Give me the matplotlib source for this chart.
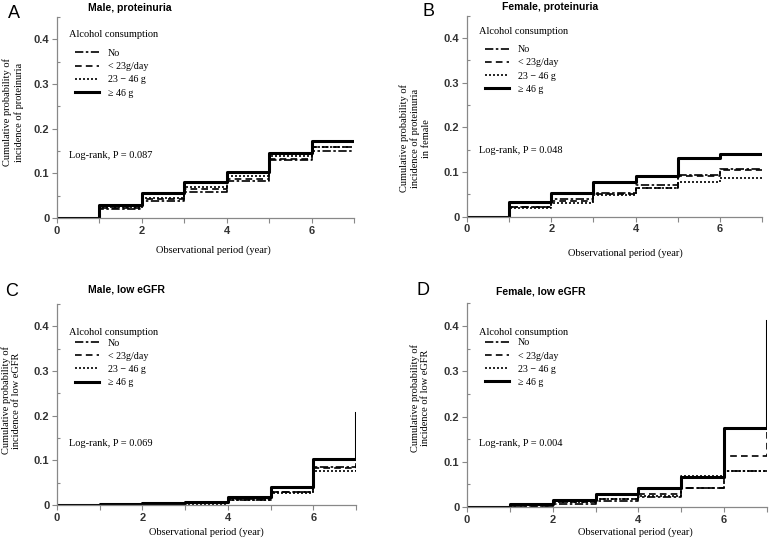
import matplotlib
matplotlib.use("Agg")
import matplotlib.pyplot as plt
from matplotlib.ticker import MultipleLocator
import numpy as np

# observation years (step boundaries); value at year k holds until year k+1,
# the last value is where the curve ends at year 7
years = [0, 1, 2, 3, 4, 5, 6, 7]

groups = ["No", "< 23g/day", "23 \u2212 46 g", "\u2265 46 g"]

# A: male, proteinuria
male_prot = {
    "No":     [0, 0.020, 0.038, 0.059, 0.083, 0.130, 0.150, 0.150],
    "<23":    [0, 0.022, 0.042, 0.064, 0.087, 0.133, 0.160, 0.160],
    "23-46":  [0, 0.025, 0.045, 0.070, 0.095, 0.138, 0.158, 0.158],
    ">=46":   [0, 0.030, 0.055, 0.081, 0.103, 0.145, 0.172, 0.172],
}
# B: female, proteinuria
female_prot = {
    "No":     [0, 0.022, 0.039, 0.054, 0.071, 0.094, 0.106, 0.106],
    "<23":    [0, 0.021, 0.036, 0.050, 0.065, 0.092, 0.104, 0.104],
    "23-46":  [0, 0.019, 0.030, 0.049, 0.064, 0.078, 0.087, 0.087],
    ">=46":   [0, 0.033, 0.054, 0.077, 0.092, 0.132, 0.141, 0.141],
}
# C: male, low eGFR
male_egfr = {
    "No":     [0, 0.001, 0.002, 0.004, 0.012, 0.028, 0.084, 0.095],
    "<23":    [0, 0.001, 0.002, 0.004, 0.013, 0.030, 0.082, 0.090],
    "23-46":  [0, 0.001, 0.002, 0.003, 0.012, 0.026, 0.077, 0.085],
    ">=46":   [0, 0.002, 0.004, 0.007, 0.017, 0.040, 0.102, 0.205],
}
# D: female, low eGFR
female_egfr = {
    "No":     [0, 0.002, 0.006, 0.013, 0.023, 0.041, 0.080, 0.080],
    "<23":    [0, 0.003, 0.010, 0.018, 0.029, 0.041, 0.113, 0.170],
    "23-46":  [0, 0.004, 0.010, 0.018, 0.025, 0.069, 0.080, 0.080],
    ">=46":   [0, 0.007, 0.015, 0.028, 0.041, 0.066, 0.174, 0.410],
}

titles = ["Male, proteinuria", "Female, proteinuria", "Male, low eGFR", "Female, low eGFR"]
letters = ["A", "B", "C", "D"]
ylabels = [
    "Cumulative probability of\nincidence of proteinuria",
    "Cumulative probability of\nincidence of proteinuria\nin female",
    "Cumulative probability of\nincidence of low eGFR",
    "Cumulative probability of\nincidence of low eGFR",
]
pvalues = ["0.087", "0.048", "0.069", "0.004"]

SERIF = "Liberation Serif"
SANS = "Liberation Sans"

styles = {
    "No":    dict(linestyle=(0, (5, 1.5, 1.5, 1.5)), linewidth=1.2),
    "<23":   dict(linestyle=(0, (4, 2.5)), linewidth=1.2),
    "23-46": dict(linestyle=(0, (1.2, 1.2)), linewidth=1.2),
    ">=46":  dict(linestyle="-", linewidth=2.2),
}
keys = ["No", "<23", "23-46", ">=46"]


def draw_panel(ax, data, title, letter, ylabel, pval, fig, layout):
    for k, name in zip(keys, groups):
        ax.plot(years, data[k], drawstyle="steps-post", color="black",
                label=name, **styles[k])

    ax.set_xlim(0, 7)
    ax.set_ylim(0, 0.45)
    for s in ["top", "right"]:
        ax.spines[s].set_visible(False)
    for s in ["left", "bottom"]:
        ax.spines[s].set_color("#888888")
        ax.spines[s].set_linewidth(0.9)

    ax.xaxis.set_major_locator(MultipleLocator(2))
    ax.xaxis.set_minor_locator(MultipleLocator(1))
    ax.yaxis.set_minor_locator(MultipleLocator(0.05))
    ax.set_yticks([0, 0.1, 0.2, 0.3, 0.4])
    ax.set_yticklabels(["0", "0.1", "0.2", "0.3", "0.4"])
    ax.tick_params(axis="both", which="major", length=3.5, width=0.8,
                   color="#888888", labelsize=8, labelcolor="#333333", pad=2)
    ax.tick_params(axis="x", which="minor", length=3.5, width=0.8, color="#888888")
    ax.tick_params(axis="y", which="minor", length=2, width=0.8,
                   color="#888888", direction="in")
    for lab in ax.get_xticklabels() + ax.get_yticklabels():
        lab.set_fontfamily(SANS)
        lab.set_fontweight("bold")

    tx, ty, lx, lyy, ly, xlx, xly, yx, yy, leg_title_y, leg_mid = layout

    ax.text(yx, yy, ylabel, transform=ax.transAxes, rotation=90, ha="center",
            va="center", multialignment="center", fontsize=7.5, family=SERIF)
    ax.text(xlx, xly, "Observational period (year)", transform=ax.transAxes,
            ha="center", va="center", fontsize=7.5, family=SERIF)
    ax.text(0.04, ly, "Log-rank, P = " + pval, transform=ax.transAxes,
            ha="left", va="center", fontsize=7.5, family=SERIF)
    ax.text(0.04, leg_title_y, "Alcohol consumption", transform=ax.transAxes,
            ha="left", va="center", fontsize=7.5, family=SERIF)
    ax.legend(loc="center left", bbox_to_anchor=(0.06, leg_mid), frameon=False,
              prop=dict(family=SERIF, size=7.2), handlelength=2.4,
              handletextpad=0.9, labelspacing=0.42, borderaxespad=0, borderpad=0)

    fig.text(tx, ty, title, ha="left", va="center", fontsize=7.5,
             family=SANS, weight="bold")
    fig.text(lx, lyy, letter, ha="left", va="center", fontsize=13, family=SANS)


W, H = 771, 539
fig = plt.figure(figsize=(W / 100, H / 100), dpi=100)

axes_pos = [
    [57 / W, 1 - 218 / H, 297 / W, 201 / H],
    [467 / W, 1 - 216.7 / H, 295 / W, 201 / H],
    [57 / W, 1 - 505 / H, 299 / W, 201 / H],
    [467 / W, 1 - 507 / H, 300 / W, 203.6 / H],
]
# title x, title y, letter x, letter y, logrank y, xlabel x, xlabel y,
# ylabel x, ylabel y, legend title y, legend centre y
layouts = [
    (88 / W, 1 - 8 / H, 8 / W, 1 - 14 / H, 0.313, 0.525, -0.159, -0.148, 0.527, 0.915, 0.72),
    (502 / W, 1 - 7 / H, 422 / W, 1 - 11 / H, 0.33, 0.536, -0.18, -0.176, 0.39, 0.92, 0.732),
    (88 / W, 1 - 290 / H, 5 / W, 1 - 291 / H, 0.308, 0.5, -0.134, -0.154, 0.52, 0.856, 0.707),
    (496 / W, 1 - 291 / H, 417 / W, 1 - 290.5 / H, 0.314, 0.56, -0.123, -0.157, 0.535, 0.855, 0.709),
]
datasets = [male_prot, female_prot, male_egfr, female_egfr]

for i in range(4):
    ax = fig.add_axes(axes_pos[i])
    draw_panel(ax, datasets[i], titles[i], letters[i], ylabels[i], pvalues[i],
               fig, layouts[i])

fig.savefig("out.png", dpi=100)
